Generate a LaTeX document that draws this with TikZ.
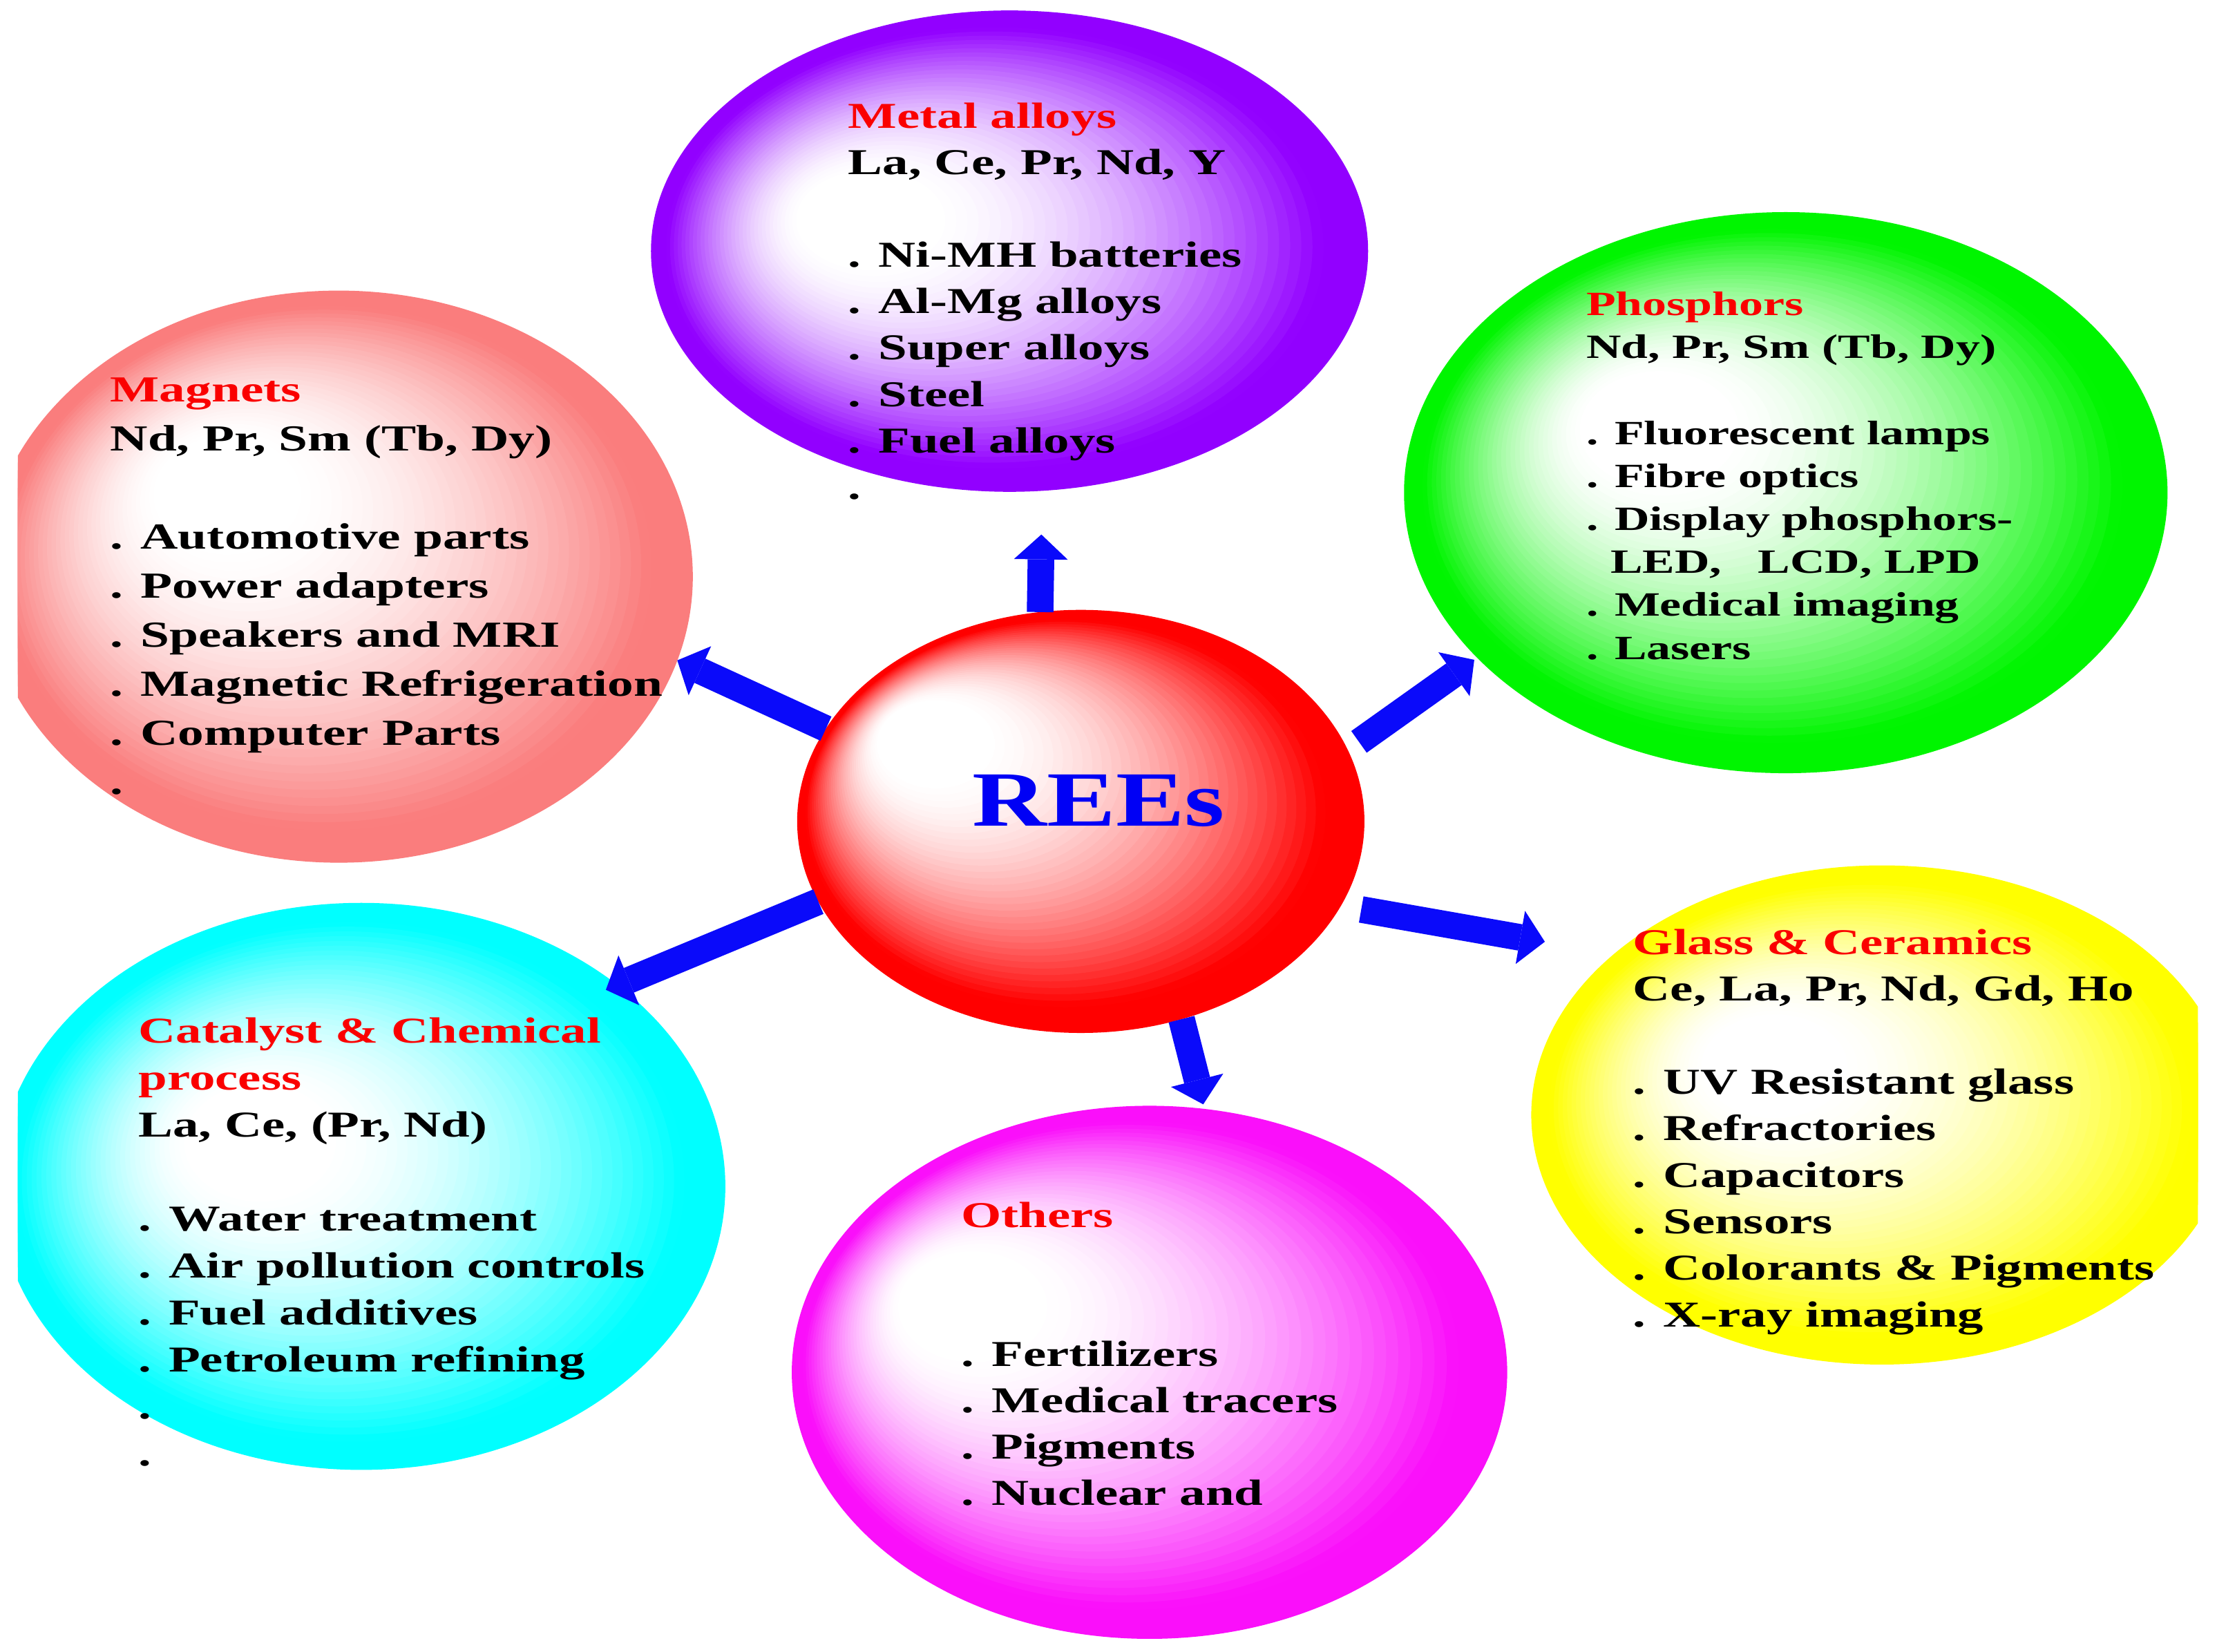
\documentclass[tikz,border=0pt]{standalone}
\usepackage{fontspec}
\usetikzlibrary{shapes.geometric,arrows.meta}
\newfontfamily\bubfont{Liberation Serif}[FakeStretch=1.42]
\newfontfamily\reefont{Liberation Serif}[FakeStretch=1.32]
\definecolor{cPurple}{RGB}{146,0,255}
\definecolor{cGreen}{RGB}{0,245,0}
\definecolor{cPink}{RGB}{250,125,125}
\definecolor{cRed}{RGB}{255,0,0}
\definecolor{cYellow}{RGB}{255,255,0}
\definecolor{cCyan}{RGB}{0,255,255}
\definecolor{cMagenta}{RGB}{250,15,250}
\definecolor{arrowBlue}{RGB}{10,10,250}
\definecolor{headRed}{RGB}{250,0,0}
\definecolor{reeBlue}{RGB}{0,0,245}
\newcommand\pxu{0.020466cm}
% #1 colour, #2 cx, #3 cy, #4 rx, #5 ry, #6 hx, #7 hy (highlight)
\newcommand\glossy[7]{%
  \foreach \k in {0,...,47}{%
    \pgfmathsetmacro\gt{\k/48}%
    \pgfmathsetmacro\gs{1-\gt}%
    \pgfmathsetmacro\gq{min(1,max(0,(\gs-0.2)/0.72))}%
    \pgfmathsetmacro\gp{100*pow(\gq,1.6)}%
    \pgfmathsetmacro\gx{#2+\gt*(#6-#2)}%
    \pgfmathsetmacro\gy{#3+\gt*(#7-#3)}%
    \fill[#1!\gp!white] (\gx,\gy) ellipse [x radius={\gs*#4*\pxu}, y radius={\gs*#5*\pxu}];
  }}
\begin{document}
\begin{tikzpicture}[x=0.020466cm,y=-0.020466cm,
  bubble/.style={ellipse, inner sep=0pt, outer sep=0pt, draw=none},
  txt/.style={anchor=base west, inner sep=0pt, outer sep=0pt, text=black},
  bigarrow/.style={draw=arrowBlue, line width=0.385cm,
    -{Triangle[length=0.36cm,width=0.78cm,line width=0pt]}}]
\useasboundingbox (0,0) rectangle (1568,1168);
\fill[white] (0,0) rectangle (1568,1168);
\begin{scope}
\clip (12.7,0) rectangle (1554.5,1168);
\glossy{cPurple}{714}{177.6}{253.6}{170.2}{590}{150}
\glossy{cGreen}{1263}{348.4}{270}{198.4}{1150}{292}
\glossy{cPink}{239.6}{407.8}{250.4}{202.3}{140}{335}
\glossy{cRed}{764.4}{580.9}{200.6}{149.6}{635}{512}
\glossy{cYellow}{1331}{788.5}{248}{176.5}{1235}{745}
\glossy{cCyan}{255.5}{839}{257.5}{200.5}{165}{800}
\glossy{cMagenta}{813}{970.5}{253}{188.5}{655}{912}
\end{scope}
\node[bubble, minimum width={507.2*\pxu}, minimum height={340.4*\pxu}] (metal) at (714,177.6) {};
\node[bubble, minimum width={540*\pxu}, minimum height={396.8*\pxu}] (phos) at (1263,348.4) {};
\node[bubble, minimum width={500.8*\pxu}, minimum height={404.6*\pxu}] (mag) at (239.6,407.8) {};
\node[bubble, minimum width={401.2*\pxu}, minimum height={299.2*\pxu}] (rees) at (764.4,580.9) {};
\node[bubble, minimum width={496*\pxu}, minimum height={353*\pxu}] (glass) at (1331,788.5) {};
\node[bubble, minimum width={515*\pxu}, minimum height={401*\pxu}] (cat) at (255.5,839) {};
\node[bubble, minimum width={506*\pxu}, minimum height={377*\pxu}] (oth) at (813,970.5) {};

\node[txt, font=\bubfont\bfseries\fontsize{15}{19.1}\selectfont] (tmetal) at (600,90.5) {\begin{tabular}[t]{@{}l@{}}
\textcolor{headRed}{Metal alloys}\\
La, Ce, Pr, Nd, Y\\
\\
. Ni-MH batteries\\
. Al-Mg alloys\\
. Super alloys\\
. Steel\\
. Fuel alloys\\
.
\end{tabular}};

\node[txt, font=\bubfont\bfseries\fontsize{14}{17.7}\selectfont] (tphos) at (1122,223) {\begin{tabular}[t]{@{}l@{}}
\textcolor{headRed}{Phosphors}\\
Nd, Pr, Sm (Tb, Dy)\\
\\
. Fluorescent lamps\\
. Fibre optics\\
. Display phosphors-\\
\hphantom{.\ }LED,\ \ \ LCD, LPD\\
. Medical imaging\\
. Lasers
\end{tabular}};

\node[txt, font=\bubfont\bfseries\fontsize{15.1}{20.2}\selectfont] (tmag) at (78,284.2) {\begin{tabular}[t]{@{}l@{}}
\textcolor{headRed}{Magnets}\\
Nd, Pr, Sm (Tb, Dy)\\
\\
. Automotive parts\\
. Power adapters\\
. Speakers and MRI\\
. Magnetic Refrigeration\\
. Computer Parts\\
.
\end{tabular}};

\node[txt, font=\bubfont\bfseries\fontsize{15}{19.33}\selectfont] (tcat) at (98,737.6) {\begin{tabular}[t]{@{}l@{}}
\textcolor{headRed}{Catalyst \& Chemical}\\
\textcolor{headRed}{process}\\
La, Ce, (Pr, Nd)\\
\\
. Water treatment\\
. Air pollution controls\\
. Fuel additives\\
. Petroleum refining\\
.\\
.
\end{tabular}};

\node[txt, font=\bubfont\bfseries\fontsize{15}{19.16}\selectfont] (tglass) at (1155,675) {\begin{tabular}[t]{@{}l@{}}
\textcolor{headRed}{Glass \& Ceramics}\\
Ce, La, Pr, Nd, Gd, Ho\\
\\
. UV Resistant glass\\
. Refractories\\
. Capacitors\\
. Sensors\\
. Colorants \& Pigments\\
. X-ray imaging
\end{tabular}};

\node[txt, font=\bubfont\bfseries\fontsize{15}{19.04}\selectfont] (toth) at (680,868) {\begin{tabular}[t]{@{}l@{}}
\textcolor{headRed}{Others}\\
\\
\\
. Fertilizers\\
. Medical tracers\\
. Pigments\\
. Nuclear and
\end{tabular}};

\node[anchor=base, inner sep=0pt, text=reeBlue, font=\reefont\bfseries\fontsize{32.2}{38}\selectfont] (reetxt) at (777,584) {REEs};

\coordinate (tUp) at (736.5,378);
\coordinate (tUR) at (1042.7,466.6);
\coordinate (tUL) at (479,467);
\coordinate (tLL) at (428.5,700);
\coordinate (tR) at (1092.6,666);
\coordinate (tD) at (851,781);

\draw[bigarrow] (rees.101) -- (tUp);
\draw[bigarrow, shorten <=0.2cm] (rees.15) -- (tUR);
\draw[bigarrow] (rees.160) -- (tUL);
\draw[bigarrow] (rees.197) -- (tLL);
\draw[bigarrow, shorten <=0.3cm] (rees.-18) -- (tR);
\draw[bigarrow] (rees.-63) -- (tD);
\end{tikzpicture}
\end{document}
